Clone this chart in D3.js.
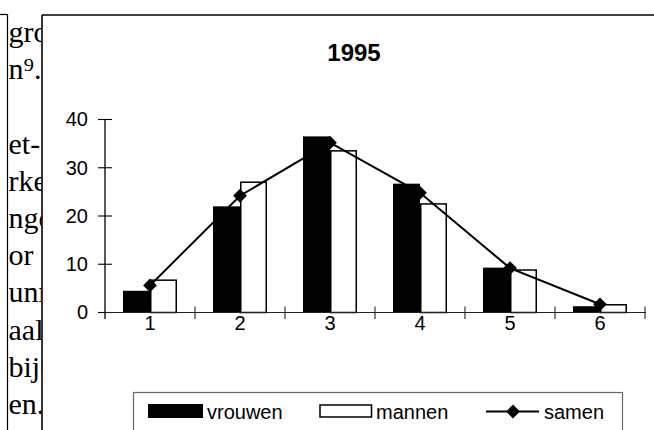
<!DOCTYPE html>
<html><head><meta charset="utf-8">
<script src="https://cdn.jsdelivr.net/npm/d3@7"></script>
<style>body{margin:0;background:#fff}svg{display:block}</style>
</head><body>
<svg id="c" width="654" height="430"></svg>
<script>
const categories = ["1","2","3","4","5","6"];
const vrouwen = [4.5, 22, 36.5, 26.7, 9.3, 1.3];
const mannen = [6.7, 27, 33.5, 22.5, 8.8, 1.6];
const samen = [5.6, 24.2, 35.2, 24.8, 9.2, 1.7];
const yTicks = [0, 10, 20, 30, 40];
const title = "1995";
const seriesNames = ["vrouwen", "mannen", "samen"];
const docLines = ["groep", "n\u2079.", "", "et-", "rken", "ngen", "or  ", "unne", "aal", "bijd", "en."];

const svg = d3.select("#c");
const F = "Arial, 'Liberation Sans', sans-serif";

// background document fragment
svg.append("defs").append("clipPath").attr("id","docclip")
  .append("rect").attr("x",8.5).attr("y",15).attr("width",33).attr("height",420);
svg.append("line").attr("x1",0).attr("x2",8).attr("y1",14.5).attr("y2",14.5).attr("stroke","#000").attr("stroke-width",1.2);
svg.append("line").attr("x1",7.5).attr("x2",7.5).attr("y1",14).attr("y2",430).attr("stroke","#000").attr("stroke-width",1.2);
const docG = svg.append("g").attr("clip-path","url(#docclip)");
docG.selectAll("text").data(docLines).join("text")
  .attr("x", 8.5).attr("y", (d,i) => 42 + i*37.2)
  .attr("font-family","'Liberation Serif','Times New Roman',serif")
  .attr("font-size", 30).attr("fill","#000").text(d => d);

// chart frame
svg.append("line").attr("x1",42).attr("x2",654).attr("y1",15).attr("y2",15).attr("stroke","#000").attr("stroke-width",1.6);
svg.append("line").attr("x1",42).attr("x2",42).attr("y1",15).attr("y2",430).attr("stroke","#000").attr("stroke-width",1.6);

// title
svg.append("text").attr("x",354).attr("y",61).attr("text-anchor","middle")
  .attr("font-family",F).attr("font-weight","bold").attr("font-size",24).text(title);

const x = d3.scaleBand().domain(categories).range([105, 645]).padding(0);
const y = d3.scaleLinear().domain([0, 40]).range([312.5, 119.5]);
const bw = x.bandwidth() * 0.3;

// bars
const g = svg.append("g");
g.selectAll("rect.v").data(vrouwen).join("rect").attr("class","v")
  .attr("x",(d,i)=>x(categories[i]) + x.bandwidth()/2 - bw)
  .attr("y",d=>y(d)).attr("width",bw).attr("height",d=>y(0)-y(d))
  .attr("fill","#000");
g.selectAll("rect.m").data(mannen).join("rect").attr("class","m")
  .attr("x",(d,i)=>x(categories[i]) + x.bandwidth()/2 + 0.75)
  .attr("y",d=>y(d)).attr("width",bw-1.5).attr("height",d=>y(0)-y(d))
  .attr("fill","#fff").attr("stroke","#000").attr("stroke-width",1.5);

// axes
const yAxis = d3.axisLeft(y).tickValues(yTicks).tickSize(0).tickPadding(17);
const ya = svg.append("g").attr("transform","translate(105,0)").call(yAxis);
ya.select(".domain").remove();
ya.selectAll("text").attr("font-family",F).attr("font-size",20).attr("fill","#000");
svg.append("line").attr("x1",105).attr("x2",105).attr("y1",119.5).attr("y2",319).attr("stroke","#000").attr("stroke-width",1.3);
svg.selectAll("line.yt").data(yTicks).join("line").attr("class","yt")
  .attr("x1",98).attr("x2",112).attr("y1",d=>y(d)).attr("y2",d=>y(d)).attr("stroke","#000").attr("stroke-width",1.1);

svg.append("line").attr("x1",105).attr("x2",646).attr("y1",y(0)).attr("y2",y(0)).attr("stroke","#222").attr("stroke-width",1.2);
const bounds = categories.map(c => x(c) + x.bandwidth());
svg.selectAll("line.xt").data(bounds).join("line").attr("class","xt")
  .attr("x1",d=>d).attr("x2",d=>d).attr("y1",306.5).attr("y2",319).attr("stroke","#222").attr("stroke-width",1.1);
svg.selectAll("text.xl").data(categories).join("text").attr("class","xl")
  .attr("x",d=>x(d)+x.bandwidth()/2).attr("y",330).attr("text-anchor","middle")
  .attr("font-family",F).attr("font-size",20).text(d=>d);

// samen line
const line = d3.line().x((d,i)=>x(categories[i])+x.bandwidth()/2).y(d=>y(d));
svg.append("path").datum(samen).attr("d",line).attr("fill","none").attr("stroke","#000").attr("stroke-width",2);
const sym = d3.symbol().type(d3.symbolSquare).size(95);
svg.selectAll("path.mk").data(samen).join("path").attr("class","mk")
  .attr("d",sym()).attr("fill","#000")
  .attr("transform",(d,i)=>`translate(${x(categories[i])+x.bandwidth()/2},${y(d)}) rotate(45)`);

// legend
svg.append("rect").attr("x",133.5).attr("y",392.5).attr("width",489).attr("height",60)
  .attr("fill","#fff").attr("stroke","#666").attr("stroke-width",1.2);
const lg = svg.append("g").attr("font-family",F).attr("font-size",20);
lg.append("rect").attr("x",148).attr("y",404).attr("width",55).attr("height",14).attr("fill","#000");
lg.append("text").attr("x",207).attr("y",419).text(seriesNames[0]);
lg.append("rect").attr("x",320).attr("y",405).attr("width",51.5).attr("height",12).attr("fill","#fff").attr("stroke","#000").attr("stroke-width",1.5);
lg.append("text").attr("x",376).attr("y",419).text(seriesNames[1]);
lg.append("line").attr("x1",486).attr("x2",539).attr("y1",411.5).attr("y2",411.5).attr("stroke","#000").attr("stroke-width",2);
lg.append("path").attr("d",sym()).attr("transform","translate(513,411.5) rotate(45)").attr("fill","#000");
lg.append("text").attr("x",544).attr("y",419).text(seriesNames[2]);
</script>
</body></html>
